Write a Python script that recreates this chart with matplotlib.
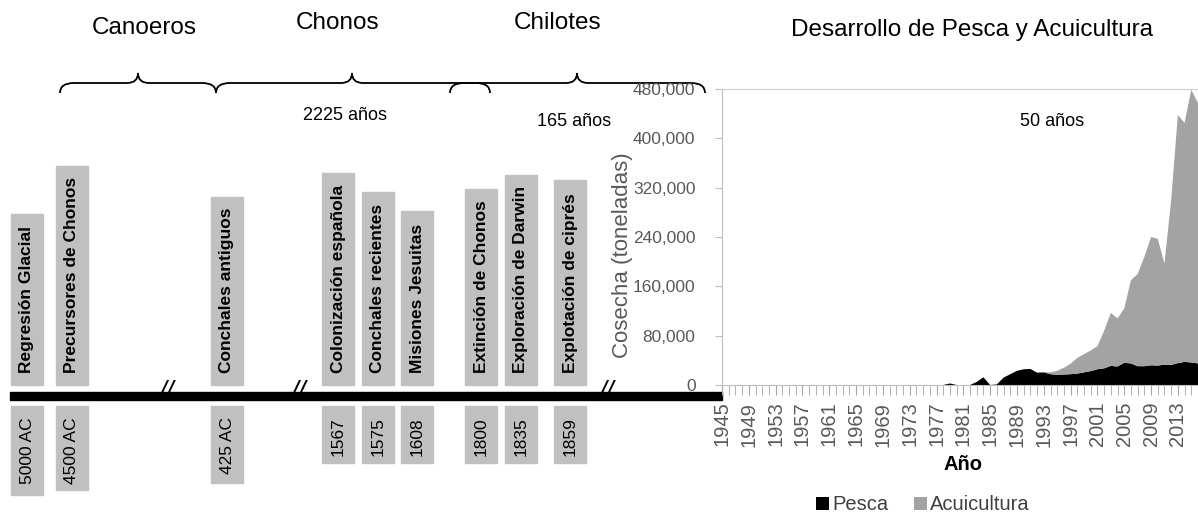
import matplotlib
matplotlib.use("Agg")
import matplotlib.pyplot as plt
from matplotlib.patches import Rectangle, PathPatch
from matplotlib.path import Path
import numpy as np

plt.rcParams['font.family'] = ['Liberation Sans', 'DejaVu Sans']

# ---- datos: línea de tiempo ----
grupos = ['Canoeros', 'Chonos', 'Chilotes']
duraciones = ['2225 años', '165 años', '50 años']
eventos = ['Regresión Glacial', 'Precursores de Chonos', 'Conchales antiguos',
           'Colonización española', 'Conchales recientes', 'Misiones Jesuitas',
           'Extinción de Chonos', 'Exploración de Darwin', 'Explotación de ciprés']
fechas = ['5000 AC', '4500 AC', '425 AC', '1567', '1575', '1608', '1800', '1835', '1859']

# ---- datos: cosecha (toneladas) 1945-2016 ----
anios = list(range(1945, 2017))
pesca = [0, 0, 0, 0, 0, 0, 0, 0, 0, 0,
         0, 0, 0, 0, 0, 0, 0, 0, 0, 0,
         0, 0, 0, 0, 0, 0, 0, 0, 0, 0,
         0, 0, 0, 0,
         2500, 0, 0, 0, 5000, 12500, 0, 1000, 12000, 17500,
         23000, 25500, 26000, 20000, 20500, 17500, 16500, 17000, 17500, 18500,
         20500, 22500, 25500, 27000, 31000, 30000, 36000, 35000, 30500, 30500,
         32000, 31500, 33000, 32500, 35500, 37500, 36500, 35000]
acuicultura = [0, 0, 0, 0, 0, 0, 0, 0, 0, 0,
               0, 0, 0, 0, 0, 0, 0, 0, 0, 0,
               0, 0, 0, 0, 0, 0, 0, 0, 0, 0,
               0, 0, 0, 0, 0, 0, 0, 0, 0, 0,
               0, 0, 0, 0, 0, 0, 0, 0,
               500, 3000, 6500, 11000, 17000, 25500, 29500, 33500, 37500, 61000,
               86000, 78000, 88000, 135000, 149500, 177500, 208000, 205500, 164000, 267500,
               402500, 387500, 442500, 422000]

# ---- maquetación (pixeles de la figura) ----
W, H = 1198, 516
caja_x = [11, 56, 211, 322, 362, 401, 465, 505, 554]
caja_ancho = 32
caja_top = [214, 166, 197, 173, 192, 211, 189, 175, 180]
fecha_bottom = [495, 490, 483, 463, 463, 463, 463, 463, 463]
gris_caja = '#c0c0c0'

fig = plt.figure(figsize=(W / 100, H / 100), dpi=100)
ax0 = fig.add_axes([0, 0, 1, 1])
ax0.set_xlim(0, W)
ax0.set_ylim(H, 0)
ax0.axis('off')

# barra de tiempo
ax0.add_patch(Rectangle((10, 392), 712, 8, color='black', zorder=3))
for xb in [166, 298, 606]:
    ax0.text(xb, 393, '//', ha='center', va='center', fontsize=20,
             fontstyle='italic', color='black', zorder=4)

# cajas de eventos y fechas
for i in range(len(eventos)):
    x = caja_x[i]
    ax0.add_patch(Rectangle((x, caja_top[i]), caja_ancho, 385 - caja_top[i],
                            color=gris_caja, zorder=2))
    ax0.text(x + caja_ancho / 2, 373, eventos[i], rotation=90, ha='center',
             va='bottom', fontsize=12.5, fontweight='bold', zorder=3)
    ax0.add_patch(Rectangle((x, 406), caja_ancho, fecha_bottom[i] - 406,
                            color=gris_caja, zorder=2))
    ax0.text(x + caja_ancho / 2, 417, fechas[i], rotation=90, ha='center',
             va='top', fontsize=12.5, zorder=3)


def llave(x0, x1, xt, y_end=93, y_line=83, y_tip=73, r=14, rt=11):
    verts = [(x0, y_end), (x0, y_line), (x0 + r, y_line),
             (xt - rt, y_line), (xt, y_line), (xt, y_tip),
             (xt, y_line), (xt + rt, y_line),
             (x1 - r, y_line), (x1, y_line), (x1, y_end)]
    codes = [Path.MOVETO, Path.CURVE3, Path.CURVE3,
             Path.LINETO, Path.CURVE3, Path.CURVE3,
             Path.CURVE3, Path.CURVE3,
             Path.LINETO, Path.CURVE3, Path.CURVE3]
    ax0.add_patch(PathPatch(Path(verts, codes), fill=False, lw=1.3,
                            edgecolor='black', zorder=3))


llave(60, 216, 138)
llave(216, 490, 352)
llave(450, 705, 577)

for txt, (xx, yy) in zip(grupos, [(144, 28), (338, 23), (558, 23)]):
    ax0.text(xx, yy, txt, ha='center', va='center', fontsize=17.5)
ax0.text(972, 30, 'Desarrollo de Pesca y Acuicultura', ha='center',
         va='center', fontsize=17.5)
for txt, (xx, yy) in zip(duraciones, [(345, 116), (574, 121), (1052, 121)]):
    ax0.text(xx, yy, txt, ha='center', va='center', fontsize=13)

# ---- gráfico de área ----
ax = fig.add_axes([722 / W, (H - 385) / H, (W - 722) / W, 296 / H])
ax.set_facecolor('none')
ax.stackplot(anios, pesca, acuicultura, colors=['black', '#a3a3a3'],
             labels=['Pesca', 'Acuicultura'], linewidth=0)
ax.set_xlim(1945, 2016)
ax.set_ylim(0, 480000)
ax.set_yticks(range(0, 480001, 80000))
ax.set_yticklabels([f'{v:,}' for v in range(0, 480001, 80000)])
ax.set_xticks(anios[::4])
ax.set_xticks(anios, minor=True)
ax.tick_params(axis='x', which='both', direction='out', length=7,
               color='#a6a6a6', labelrotation=90, labelsize=14.5,
               labelcolor='#595959', pad=5)
ax.tick_params(axis='y', direction='out', length=5, color='#bfbfbf',
               labelsize=12.5, labelcolor='#595959', pad=14)
for s in ['left', 'bottom']:
    ax.spines[s].set_color('#bfbfbf')
ax.spines['top'].set_color('#d0d0d0')
ax.spines['right'].set_visible(False)
ax.set_ylabel('Cosecha (toneladas)', fontsize=16, color='#595959')
ax.yaxis.set_label_coords(-0.186, 0.44)

ax0.text(963, 465, 'Año', ha='center', va='center', fontsize=14.5,
         fontweight='bold')
ax.legend(loc='center', bbox_to_anchor=(923 / W, 1 - 505 / H),
          bbox_transform=fig.transFigure, ncol=2, frameon=False,
          fontsize=14.5, handlelength=0.65, handleheight=0.65,
          handletextpad=0.15, columnspacing=1.3, labelcolor='#404040')

fig.savefig('out.png', dpi=100)
